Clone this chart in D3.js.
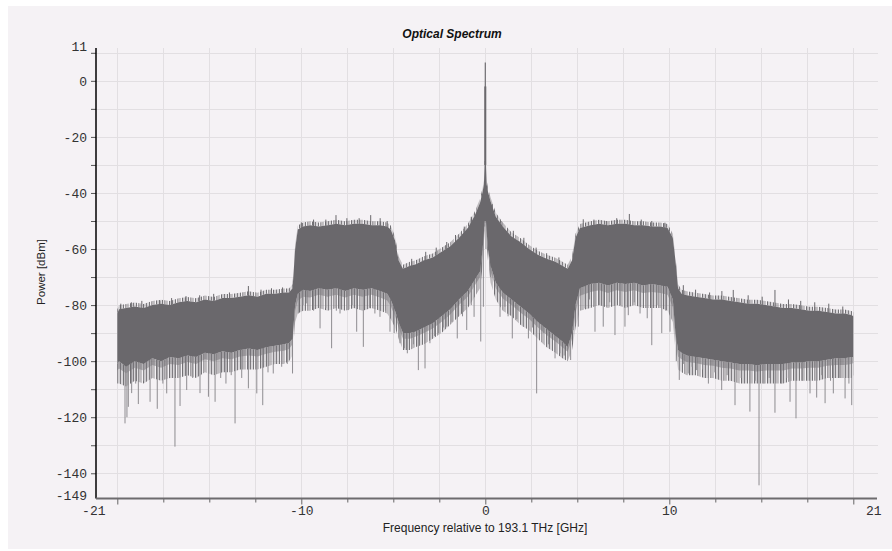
<!DOCTYPE html>
<html>
<head>
<meta charset="utf-8">
<script src="https://cdn.jsdelivr.net/npm/d3@7/dist/d3.min.js"></script>
<style>
  html, body { margin: 0; padding: 0; background: #fff; }
  svg { display: block; }
</style>
</head>
<body>
<div id="chart"></div>
<script>
// Dense band of the spectrum (GHz / dBm)
const freqGHz = [
  -21, -20.9, -20.5, -20, -19.5, -19, -18.5, -18, -17.5, -17, -16.5, -16, -15.5, -15, -14.5, -14, -13.5, -13, -12.5, -12, -11.5, -11.2, -11.0,
  -10.85, -10.7, -10.4, -10, -9.5, -9, -8.5, -8, -7.5, -7, -6.5, -6, -5.6, -5.4, -5.15, -4.95,
  -4.7, -4.3, -4, -3.5, -3, -2.5, -2, -1.5, -1, -0.6, -0.3, -0.15, -0.08, -0.04,
  0.04, 0.08, 0.15, 0.3, 0.6, 1, 1.5, 2, 2.5, 3, 3.5, 4, 4.4, 4.7,
  4.95, 5.15, 5.4, 6, 6.5, 7, 7.5, 8, 8.5, 9, 9.5, 10, 10.4, 10.7, 10.85,
  11.0, 11.2, 11.5, 12, 12.5, 13, 13.5, 14, 14.5, 15, 15.5, 16, 16.5, 17, 17.5, 18, 18.5, 19, 19.5, 20, 20.5, 20.9, 21];
const upperDbm = [
  -83, -81.5, -81, -80.5, -81, -80, -79.5, -80, -79, -78.5, -79, -78, -78.5, -77.5, -77.5, -77, -76.5, -77, -76, -76, -75.5, -75.5, -74,
  -60, -53, -52, -51.5, -52, -51.5, -51, -51.5, -51, -51, -51.5, -51.5, -52, -53, -57, -64,
  -67, -66, -65.5, -64, -63, -61, -59, -56, -52.5, -48, -43.5, -39.5, -37, -30,
  -30, -37, -39.5, -43, -48.5, -52, -55.5, -57.5, -60, -62, -63.5, -64.5, -66, -67,
  -64, -56, -52.5, -51.5, -51, -51.5, -51, -51, -51.5, -51.5, -52, -52, -52.5, -56, -64,
  -74, -76, -76.5, -77, -77.5, -78, -78, -78.5, -79, -79.5, -79.5, -80, -80.5, -81, -81, -81.5, -82, -82, -82.5, -83, -83, -83.5, -84];
const lowerDbm = [
  -101, -100, -102, -100, -101, -99, -100, -98.5, -99, -98, -98.5, -97, -97.5, -96.5, -97, -96, -95.5, -96, -95, -94.5, -94, -93.5, -92,
  -80, -76, -74.5, -75, -74, -74.5, -74, -75, -74, -74.5, -74, -75, -76, -78, -82, -86,
  -90, -90, -89.5, -88, -86.5, -84, -81.5, -78, -75, -71, -68, -60, -54, -50,
  -50, -54, -60, -66, -72, -75.5, -78, -80.5, -83, -86, -88.5, -91, -93, -95,
  -90, -80, -74, -72.5, -72, -73, -72, -72.5, -72, -73, -72.5, -73, -73.5, -78, -90,
  -96, -97, -98, -98.5, -99, -99.5, -100, -100.5, -101, -101, -101.5, -101, -101, -101, -100.5, -100.5, -100, -100, -99.5, -99, -99, -98.5, -98.5];
// lowest level of the fuzzy lower edge
const fringeDbm = [
  -108, -108, -109, -107, -108, -106, -107, -106, -106, -105, -106, -104, -105, -104, -104, -103, -103, -103, -102, -101, -101, -100, -98,
  -86, -83, -82, -82, -81, -82, -81, -82, -81, -82, -81, -82, -83, -85, -88, -92,
  -96, -96, -95, -94, -92, -90, -87, -84, -81, -77, -74, -66, -58, -52,
  -52, -58, -64, -72, -78, -82, -84, -87, -89, -92, -95, -97, -99, -100,
  -96, -88, -82, -81, -80, -81, -80, -81, -80, -81, -81, -81, -82, -86, -96,
  -103, -104, -105, -105, -106, -106, -107, -107, -108, -108, -108, -108, -108, -108, -107, -107, -107, -107, -106, -106, -106, -106, -105];

// Single deep samples hanging below the band
const dipFreq = [-20.56, -20.45, -20.37, -20.18, -19.95, -19.8, -19.5, -19.13, -18.72, -18.4, -18.18, -17.71, -17.42,
  -17.04, -16.7, -16.28, -15.8, -15.42, -15.1, -14.8, -14.5, -14.28, -13.9, -13.52, -13.04, -12.7, -12.4, -12.1,
  -11.62, -11.3, -11.0,
  -10.67, -10.4, -10.19, -9.8, -9.43, -9.1, -8.77, -8.5, -8.29, -7.82, -7.6, -7.34, -6.96, -6.6, -6.3, -6.01, -5.7, -5.44,
  -5.2, -4.87, -4.62, -4.45, -4.1, -3.82, -3.44, -3.16, -2.9, -2.68, -2.4, -2.2, -1.9, -1.6, -1.3, -1.06, -0.8, -0.64,
  -0.26, -0.11, 0.04, 0.3, 0.55, 0.84, 1.12, 1.3, 1.54, 1.8, 2.17, 2.46, 2.7, 2.93, 3.1, 3.31, 3.6, 3.98, 4.26, 4.5,
  4.87, 5.02,
  5.31, 5.69, 5.95, 6.26, 6.5, 6.73, 7.1, 7.4, 7.7, 7.97, 8.16, 8.5, 8.83, 9.24, 9.5, 9.8, 10.07, 10.3, 10.54,
  10.9, 11.07, 11.3, 11.58, 11.8, 12.06, 12.4, 12.73, 13.1, 13.49, 13.8, 14.25, 14.6, 15.1, 15.4, 15.62, 15.9, 16.2,
  16.53, 16.91, 17.2, 17.39, 17.73, 18.1, 18.53, 18.91, 19.2, 19.39, 19.7, 19.86, 20.2, 20.53, 20.75, 20.91];
const dipDbm = [-122.2, -120, -116.3, -111.4, -108, -115.3, -107, -114.5, -117, -108, -111.5, -130.5, -116,
  -110.3, -106, -111.4, -112.7, -114.5, -106, -108, -105, -122.2, -106, -109.7, -111.5, -115.7, -104, -104.4,
  -102, -101, -104.4,
  -83, -80, -79.4, -82, -88.3, -81, -95.4, -82, -83, -81.8, -80, -89.5, -94.9, -81, -83, -84.2, -82, -89.5,
  -90, -93.6, -95.4, -97.2, -94, -103.2, -102.6, -93.6, -91, -90, -88, -87.7, -86, -91.9, -84, -88.9, -80, -84.2,
  -93, -80.6, -60, -70, -71, -84.2, -80.6, -84, -91.9, -85, -87.7, -91.9, -88, -111.5, -90, -90, -94, -99, -97.2, -98,
  -99.6, -88.9,
  -87.7, -81.2, -78, -89.5, -80, -87.7, -79, -90.7, -80, -87.7, -83.6, -79, -83, -84.7, -94.3, -80, -90, -82, -89.5,
  -100, -106.7, -101, -104.4, -102, -103.2, -103, -108, -104, -110.3, -105, -115.7, -106, -118, -107, -144.3, -108, -106,
  -118.4, -108, -106, -114.5, -120.4, -107, -111.5, -113, -105, -115, -107, -111.5, -106, -113.3, -108, -115.7];

// Samples poking above the band
const riseFreq = [-20.8, -20.2, -19.6, -18.57, -17.9, -17.08, -16.3, -15.5, -14.6, -13.52, -12.8, -12.2, -11.57,
  -10.5, -9.8, -9.1, -8.52, -7.9, -7.2, -6.54, -6.0, -5.6,
  -4.2, -3.4, -2.8, -2.2, -1.7, -1.2, -0.8, 0.4, 0.9, 1.6, 2.2, 2.9, 3.5, 4.2,
  5.59, 6.2, 6.9, 7.5, 8.22, 8.9, 9.5, 10.25,
  11.3, 12.0, 12.8, 13.5, 14.15, 15.0, 15.8, 16.53, 17.3, 18.0, 18.8, 19.6, 20.4];
const riseDbm = [-79.5, -79, -78.5, -78.4, -77.5, -76.8, -76.5, -76, -75.5, -73.2, -74.5, -74, -73.7,
  -50.5, -49.5, -49.5, -47.9, -49, -49, -47.9, -49, -50,
  -63.5, -61, -59.5, -57.5, -55, -52, -48.5, -44, -50, -53.5, -56, -59.5, -61.5, -63,
  -49.4, -49.5, -50, -49, -47.5, -49.5, -50, -50.6,
  -72.9, -74.5, -75.5, -75, -74.6, -76.5, -77, -74.6, -78, -78.5, -79, -79.5, -80.5];

// Carrier at 193.1 THz
const carrierPeakDbm = 6.5;
const carrierShoulderDbm = -2;
const carrierBaseDbm = -30;

const xTickLabels = ['-21', '-10', '0', '10', '21'];
const yTickValues = [10, 0, -10, -20, -30, -40, -50, -60, -70, -80, -90, -100, -110, -120, -130, -140];

const W = 892, H = 551;
const plot = { left: 96, right: 878, top: 48, bottom: 498.5 };
const fill = '#6a686c';

const svg = d3.select('#chart').append('svg').attr('width', W).attr('height', H);
svg.append('rect').attr('x', 8).attr('y', 6).attr('width', W - 8).attr('height', H - 8).attr('fill', '#f5f2f5');

// striped texture for the noisy edges of the band
const defs = svg.append('defs');
const pat = defs.append('pattern').attr('id', 'noise').attr('patternUnits', 'userSpaceOnUse')
  .attr('width', 13).attr('height', 6);
[[0.5, 0.95], [2, 0.55], [3.5, 0.85], [5, 0.4], [6.5, 0.9], [8.5, 0.6], [10, 0.8], [11.5, 0.35]].forEach(([px, op]) => {
  pat.append('rect').attr('x', px - 0.5).attr('y', 0).attr('width', 1).attr('height', 6)
    .attr('fill', fill).attr('opacity', op);
});

const x = d3.scaleLinear().domain([-21, 21]).range([117.3, 853.3]);
const y = d3.scaleLinear().domain([-149, 11]).range([plot.bottom, 50]);

const xTickValues = d3.range(17).map((k) => -21 + k * 2.625);

// grid
const grid = svg.append('g').attr('stroke', '#e2dfe2').attr('stroke-width', 1);
grid.selectAll('line.h').data(yTickValues).enter().append('line')
  .attr('x1', plot.left).attr('x2', plot.right)
  .attr('y1', (d) => Math.round(y(d)) + 0.5).attr('y2', (d) => Math.round(y(d)) + 0.5);
grid.selectAll('line.v').data(xTickValues).enter().append('line')
  .attr('y1', plot.top).attr('y2', plot.bottom)
  .attr('x1', (d) => Math.round(x(d)) + 0.5).attr('x2', (d) => Math.round(x(d)) + 0.5);

// data
const rows = freqGHz.map((f, i) => ({ f, hi: upperDbm[i], lo: lowerDbm[i], fr: fringeDbm[i] }));
function envAt(arr, f) {
  const i = Math.max(1, Math.min(freqGHz.length - 1, d3.bisectLeft(freqGHz, f)));
  const t = (f - freqGHz[i - 1]) / (freqGHz[i] - freqGHz[i - 1]);
  return arr[i - 1] + t * (arr[i] - arr[i - 1]);
}
const dataG = svg.append('g');

// fuzzy lower edge
dataG.append('path').datum(rows)
  .attr('d', d3.area().x((d) => x(d.f)).y0((d) => y(d.fr)).y1((d) => y(d.lo)))
  .attr('fill', 'url(#noise)');
dataG.append('path').datum(rows)
  .attr('d', d3.area().x((d) => x(d.f)).y0((d) => y((d.lo * 2 + d.fr) / 3)).y1((d) => y(d.lo)))
  .attr('fill', fill).attr('opacity', 0.45);

dataG.selectAll('line.dip').data(dipFreq).enter().append('line')
  .attr('x1', (d) => x(d)).attr('x2', (d) => x(d))
  .attr('y1', (d) => y(envAt(lowerDbm, d) + 3))
  .attr('y2', (d, i) => y(dipDbm[i]))
  .attr('stroke', '#8e8c90').attr('stroke-width', 1);

dataG.selectAll('line.rise').data(riseFreq).enter().append('line')
  .attr('x1', (d) => x(d)).attr('x2', (d) => x(d))
  .attr('y1', (d) => y(envAt(upperDbm, d) - 3))
  .attr('y2', (d, i) => y(riseDbm[i]))
  .attr('stroke', fill).attr('stroke-width', 1);

// fuzzy upper edge
dataG.append('path').datum(rows)
  .attr('d', d3.area().x((d) => x(d.f)).y0((d) => y(d.hi)).y1((d) => y(d.hi) - 4))
  .attr('fill', 'url(#noise)');

dataG.append('path').datum(rows)
  .attr('d', d3.area().x((d) => x(d.f)).y0((d) => y(d.lo)).y1((d) => y(d.hi)))
  .attr('fill', fill);

dataG.append('line')
  .attr('x1', x(0)).attr('x2', x(0))
  .attr('y1', y(carrierBaseDbm)).attr('y2', y(carrierPeakDbm))
  .attr('stroke', '#6f6d71').attr('stroke-width', 1.2);
dataG.append('line')
  .attr('x1', x(0)).attr('x2', x(0))
  .attr('y1', y(carrierBaseDbm)).attr('y2', y(carrierShoulderDbm))
  .attr('stroke', fill).attr('stroke-width', 2);

// axes
const yAxis = d3.axisLeft(y).tickValues(yTickValues).tickSize(5)
  .tickFormat((d) => (d % 20 === 0 ? d : ''));
const yg = svg.append('g').attr('transform', `translate(${plot.left},0)`).call(yAxis);
yg.select('.domain').remove();
yg.selectAll('.tick line').attr('stroke', '#555');
yg.append('line').attr('x1', 0).attr('x2', 0).attr('y1', plot.top).attr('y2', plot.bottom)
  .attr('stroke', '#000').attr('stroke-width', 1.5);

const xAxis = d3.axisBottom(x).tickValues(xTickValues).tickSize(3)
  .tickFormat((d, i) => (i % 4 === 0 ? xTickLabels[i / 4] : ''));
const xg = svg.append('g').attr('transform', `translate(0,${plot.bottom})`).call(xAxis);
xg.select('.domain').remove();
xg.selectAll('.tick line').attr('stroke', '#666').attr('y2', (d, i) => (i % 4 === 0 ? 6 : 4));
xg.append('line').attr('x1', plot.left).attr('x2', plot.right - 1).attr('y1', 0).attr('y2', 0)
  .attr('stroke', '#6d6b6e').attr('stroke-width', 2);

svg.selectAll('.tick text')
  .attr('font-family', '"Liberation Mono", "DejaVu Sans Mono", monospace')
  .attr('font-size', 13).attr('fill', '#333');
xg.selectAll('.tick text').attr('y', 7);
xg.selectAll('.tick text').filter((d, i) => i === 0).attr('dx', -24);
xg.selectAll('.tick text').filter((d, i) => i === 16).attr('dx', 20);
yg.selectAll('.tick text').attr('x', -9);

// end labels of the y axis
const ends = [{ v: '11', yy: 47 }, { v: '-149', yy: 496 }];
svg.selectAll('text.yend').data(ends).enter().append('text')
  .attr('x', plot.left - 9).attr('y', (d) => d.yy).attr('dy', '0.32em')
  .attr('text-anchor', 'end')
  .attr('font-family', '"Liberation Mono", "DejaVu Sans Mono", monospace')
  .attr('font-size', 13).attr('fill', '#333').text((d) => d.v);

// titles
svg.append('text').attr('x', 452).attr('y', 38).attr('text-anchor', 'middle')
  .attr('font-family', '"Liberation Sans", Arial, sans-serif').attr('font-size', 12)
  .attr('font-weight', 'bold').attr('font-style', 'italic').attr('fill', '#111')
  .text('Optical Spectrum');
svg.append('text').attr('x', 485).attr('y', 532).attr('text-anchor', 'middle')
  .attr('font-family', '"Liberation Sans", Arial, sans-serif').attr('font-size', 12).attr('fill', '#222')
  .text('Frequency relative to 193.1 THz [GHz]');
svg.append('text').attr('transform', 'translate(45,272) rotate(-90)').attr('text-anchor', 'middle')
  .attr('font-family', '"Liberation Sans", Arial, sans-serif').attr('font-size', 11.5).attr('fill', '#222')
  .text('Power [dBm]');
</script>
</body>
</html>
